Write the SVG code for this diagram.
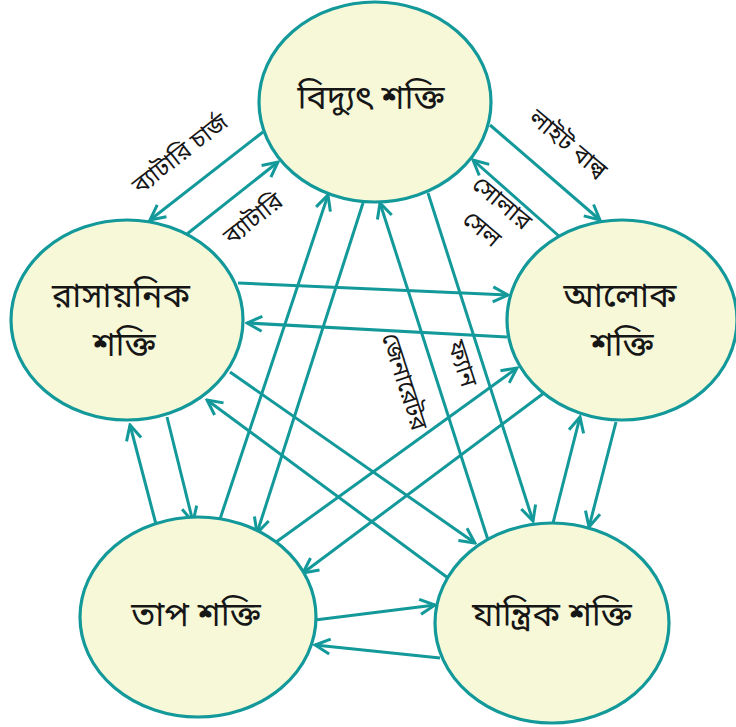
<svg xmlns="http://www.w3.org/2000/svg" width="736" height="727" viewBox="0 0 736 727">
<style>
.node{fill:#F6F8D8;stroke:#13999A;stroke-width:3.2}
.c{stroke:#13999A;stroke-width:3;fill:none;marker-end:url(#ah)}
.t{font-family:"Noto Sans Bengali","Noto Serif Bengali","Lohit Bengali","Noto Sans",sans-serif;fill:#161616;text-anchor:middle}
.nt{font-size:34px}
.lb{font-size:24px}
</style>
<defs>
<marker id="ah" viewBox="-18 -10 20 20" refX="0" refY="0" markerWidth="20" markerHeight="20" markerUnits="userSpaceOnUse" orient="auto">
<path d="M-15,-7.5 L0,0 L-15,7.5" fill="none" stroke="#13999A" stroke-width="3"/>
</marker>
</defs>
<rect width="736" height="727" fill="#fff"/>
<g id="connectors">
<line class="c" x1="263" y1="132" x2="150" y2="220"/>
<line class="c" x1="187" y1="234" x2="278" y2="162"/>
<line class="c" x1="490" y1="125" x2="600" y2="220"/>
<line class="c" x1="560" y1="237" x2="473" y2="160"/>
<line class="c" x1="238" y1="283" x2="508" y2="295"/>
<line class="c" x1="507" y1="337" x2="247" y2="323"/>
<line class="c" x1="157" y1="528" x2="130" y2="425"/>
<line class="c" x1="167" y1="417" x2="193" y2="522"/>
<line class="c" x1="553" y1="523" x2="580" y2="417"/>
<line class="c" x1="616" y1="422" x2="589" y2="527"/>
<line class="c" x1="315" y1="620" x2="435" y2="605"/>
<line class="c" x1="440" y1="658" x2="315" y2="645"/>
<line class="c" x1="218" y1="525" x2="328" y2="195"/>
<line class="c" x1="363" y1="203" x2="257" y2="533"/>
<line class="c" x1="488" y1="540" x2="380" y2="203"/>
<line class="c" x1="428" y1="193" x2="533" y2="521"/>
<line class="c" x1="230" y1="372" x2="475" y2="543"/>
<line class="c" x1="448" y1="578" x2="207" y2="400"/>
<line class="c" x1="272" y1="545" x2="517" y2="368"/>
<line class="c" x1="544" y1="393" x2="303" y2="573"/>
</g>
<g id="labels">
<text class="t lb" transform="translate(185,160) rotate(-38)">ব্যাটারি চার্জ</text>
<text class="t lb" transform="translate(258,225) rotate(-38)">ব্যাটারি</text>
<text class="t lb" transform="translate(563,150) rotate(40)">লাইট বাল্ব</text>
<text class="t lb" transform="translate(497,209) rotate(40)">সোলার</text>
<text class="t lb" transform="translate(477,235) rotate(40)">সেল</text>
<text class="t lb" transform="translate(397,384) rotate(72)">জেনারেটর</text>
<text class="t lb" transform="translate(455,366) rotate(72)">ফ্যান</text>
</g>
<g id="node-electric">
<ellipse class="node" cx="375" cy="102" rx="116" ry="100"/>
<text class="t nt" x="371" y="109">বিদ্যুৎ শক্তি</text>
</g>
<g id="node-chemical">
<ellipse class="node" cx="127" cy="320" rx="116" ry="100"/>
<text class="t nt" x="121" y="307">রাসায়নিক</text>
<text class="t nt" x="124" y="356">শক্তি</text>
</g>
<g id="node-light">
<ellipse class="node" cx="622" cy="320" rx="115" ry="100"/>
<text class="t nt" x="620" y="307">আলোক</text>
<text class="t nt" x="622" y="356">শক্তি</text>
</g>
<g id="node-heat">
<ellipse class="node" cx="198" cy="617" rx="118" ry="100"/>
<text class="t nt" x="196" y="626">তাপ শক্তি</text>
</g>
<g id="node-mechanical">
<ellipse class="node" cx="552" cy="623" rx="117" ry="100"/>
<text class="t nt" x="552" y="626">যান্ত্রিক শক্তি</text>
</g>
</svg>
